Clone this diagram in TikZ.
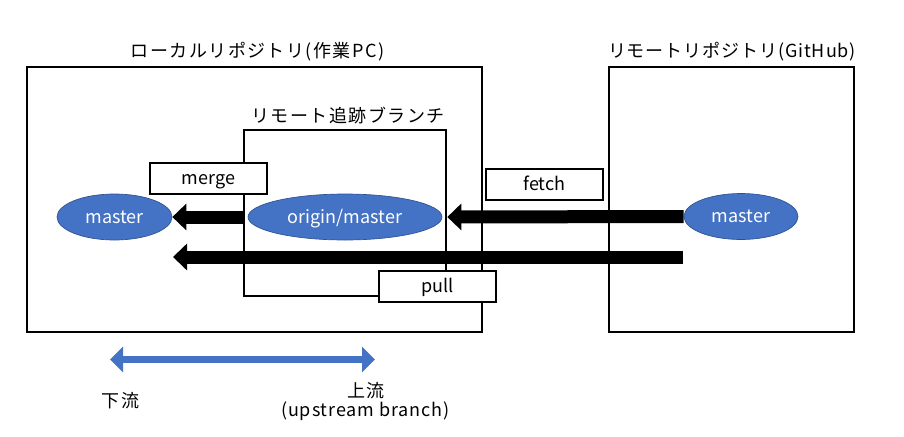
\documentclass[tikz,border=0pt]{standalone}
\usepackage{fontspec}
\setmainfont{Noto Sans CJK JP}
\newfontfamily\jpwide{Noto Sans CJK JP}[LetterSpace=8]
\newfontfamily\jpmid{Noto Sans CJK JP}[LetterSpace=5]
\usetikzlibrary{arrows.meta,shapes.geometric}
\definecolor{ablue}{HTML}{4472C4}
\definecolor{dblue}{HTML}{2F528F}
\tikzset{
  repo/.style={draw=black,line width=1pt},
  lbl/.style={font=\jpwide\fontsize{13.5pt}{15pt}\selectfont,inner sep=0pt,anchor=base},
  br/.style={ellipse,fill=ablue,draw=dblue,line width=0.5pt,text=white,
    font=\fontsize{13.5pt}{15pt}\selectfont,minimum height=34.5pt,inner sep=0pt,
    text height=10pt,text depth=1pt},
  cmd/.style={draw=black,fill=white,line width=0.9pt,minimum width=87.75pt,minimum height=23.25pt,
    inner sep=0pt,font=\fontsize{13.5pt}{15pt}\selectfont,text height=9.5pt,text depth=1.25pt},
  bigarrow/.style={line width=9.75pt,-{Triangle[length=10.5pt,width=19.5pt]}},
  flow/.style={ablue,line width=5.25pt,{Triangle[length=9.75pt,width=18.75pt]}-{Triangle[length=9.75pt,width=18.75pt]}},
}
\begin{document}
\begin{tikzpicture}[x=0.75pt,y=-0.75pt]
\useasboundingbox (0,0) rectangle (904,436);
% boxes
\draw[repo] (27,67) rectangle (482,332);
\draw[repo] (609,67) rectangle (854,332);
\draw[repo] (244,130) rectangle (446,296);
% titles
\node[lbl] (tl) at (257.5,57) {ローカルリポジトリ(作業PC)};
\node[lbl,font=\jpmid\fontsize{13.5pt}{15pt}\selectfont] (tr) at (732,57) {リモートリポジトリ(GitHub)};
\node[lbl] (tt) at (348,122) {リモート追跡ブランチ};
% branches
\node[br,minimum width=86.25pt] (lm) at (114.5,217) {master};
\node[br,minimum width=145.5pt] (om) at (345,217) {origin/master};
\node[br,minimum width=85.5pt] (rm) at (741,216.5) {master};
% arrows
\coordinate (pullS) at (683,257);
\coordinate (pullE) at (173,257);
\draw[bigarrow] (rm.west) -- ([xshift=3.75pt]om.east);
\draw[bigarrow] ([xshift=-3pt]om.west) -- (lm.east);
\draw[bigarrow] (pullS) -- (pullE);
% commands
\node[cmd] (merge) at (208.5,178.5) {merge};
\node[cmd] (fetch) at (544.5,184.5) {fetch};
\node[cmd] (pull) at (437.5,286.5) {pull};
% flow
\coordinate (dn) at (110,359.5);
\coordinate (up) at (375,359.5);
\draw[flow] (dn) -- (up);
\node[lbl] (dl) at (120.5,407) {下流};
\node[lbl] (ul) at (366,397) {上流};
\node[lbl,font=\jpmid\fontsize{13.5pt}{15pt}\selectfont] (ub) at (365.5,416) {(upstream branch)};
\end{tikzpicture}
\end{document}
